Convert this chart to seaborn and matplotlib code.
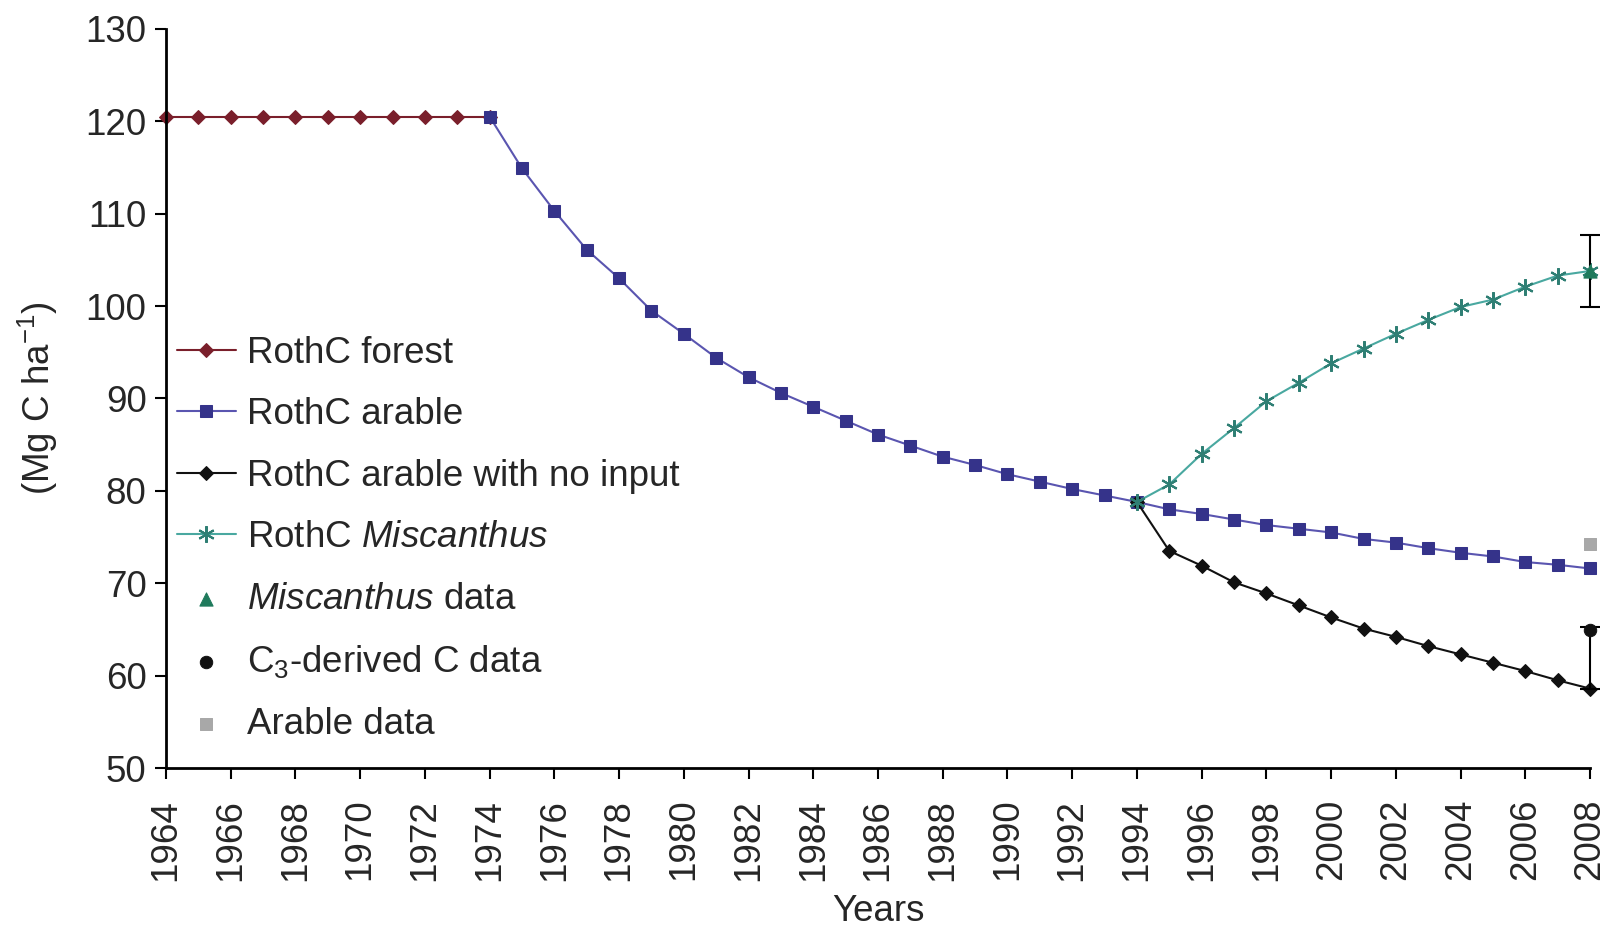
import numpy as np
import pandas as pd
import matplotlib
matplotlib.use("Agg")
import matplotlib.pyplot as plt
import seaborn as sns

# ---- data ----
forest_years = list(range(1964, 1975))
forest_vals = [120.5] * 11

arable_years = list(range(1974, 2009))
arable_vals = [120.5, 114.9, 110.3, 106.1, 103.0, 99.5, 97.0, 94.4, 92.3, 90.6,
               89.1, 87.6, 86.1, 84.9, 83.7, 82.8, 81.8, 81.0, 80.2, 79.5,
               78.8, 78.0, 77.5, 76.9, 76.3, 75.9, 75.5, 74.8, 74.4, 73.8,
               73.3, 72.9, 72.3, 72.0, 71.6]

noinput_years = list(range(1994, 2009))
noinput_vals = [78.8, 73.5, 71.9, 70.1, 68.9, 67.6, 66.3, 65.1, 64.2, 63.2,
                62.3, 61.4, 60.5, 59.5, 58.6]

misc_years = list(range(1994, 2009))
misc_vals = [78.8, 80.7, 84.0, 86.8, 89.7, 91.7, 93.8, 95.4, 97.0, 98.5,
             99.9, 100.7, 102.1, 103.3, 103.8]

misc_data_year = [2008]
misc_data_val = [103.8]
misc_data_err = [3.9]

c3_data_year = [2008]
c3_data_val = [64.9]
c3_data_err_low = [6.3]
c3_data_err_high = [0.4]

arable_data_year = [2008]
arable_data_val = [74.2]

xticks = list(range(1964, 2009, 2))
yticks = list(range(50, 131, 10))

# ---- style ----
sns.set_style("ticks")
plt.rcParams["font.family"] = ["Liberation Sans", "DejaVu Sans"]
plt.rcParams["mathtext.fontset"] = "custom"
plt.rcParams["mathtext.rm"] = "Liberation Sans"
plt.rcParams["mathtext.it"] = "Liberation Sans:italic"

FS = 26.5

fig = plt.figure(figsize=(16.05, 9.31), dpi=100)
ax = fig.add_axes([0.1034, 0.175, 0.8873, 0.794])

c_forest = "#7a1f2b"
c_arable = "#35338a"
c_arable_line = "#5a55b0"
c_noinput = "#111111"
c_misc = "#2f7f74"
c_misc_line = "#49a8a0"

sns.lineplot(x=forest_years, y=forest_vals, ax=ax, color=c_forest, marker="D",
             markersize=7, markeredgecolor=c_forest, linewidth=1.5,
             label="RothC forest", clip_on=False)
sns.lineplot(x=arable_years, y=arable_vals, ax=ax, color=c_arable_line, marker="s",
             markersize=9, markerfacecolor=c_arable, markeredgecolor=c_arable,
             linewidth=1.5, label="RothC arable", clip_on=False)
sns.lineplot(x=noinput_years, y=noinput_vals, ax=ax, color=c_noinput, marker="D",
             markersize=7, markeredgecolor=c_noinput, linewidth=1.5,
             label="RothC arable with no input", clip_on=False)
sns.lineplot(x=misc_years, y=misc_vals, ax=ax, color=c_misc_line, marker=(6, 2, 0),
             markersize=12, markeredgecolor=c_misc, markeredgewidth=1.5,
             linewidth=1.5, label="RothC $\\it{Miscanthus}$", clip_on=False)

# data points with error bars
eb1 = ax.errorbar(misc_data_year, misc_data_val, yerr=[misc_data_err, misc_data_err],
                  fmt="none", ecolor="black", elinewidth=1.5, capsize=7, capthick=1.5)
sns.scatterplot(x=misc_data_year, y=misc_data_val, ax=ax, marker="^", s=90,
                color="#1f7a5c", edgecolor="#1f7a5c", label="$\\it{Miscanthus}$ data",
                zorder=5, clip_on=False)
eb2 = ax.errorbar(c3_data_year, c3_data_val, yerr=[c3_data_err_low, c3_data_err_high],
                  fmt="none", ecolor="black", elinewidth=1.5, capsize=7, capthick=1.5)
sns.scatterplot(x=c3_data_year, y=c3_data_val, ax=ax, marker="o", s=80,
                color="#111111", edgecolor="#111111", label="C$_3$-derived C data",
                zorder=5, clip_on=False)
sns.scatterplot(x=arable_data_year, y=arable_data_val, ax=ax, marker="s", s=80,
                color="#a8a8a8", edgecolor="#a8a8a8", label="Arable data", zorder=4,
                clip_on=False)
for eb in (eb1, eb2):
    for child in eb.get_children():
        child.set_clip_on(False)
    for part in eb.lines:
        if part is None:
            continue
        try:
            for p in part:
                p.set_clip_on(False)
        except TypeError:
            part.set_clip_on(False)

ax.set_xlim(1964, 2008)
ax.set_ylim(50, 130)
ax.set_xticks(xticks)
ax.set_xticklabels([str(x) for x in xticks], rotation=90, fontsize=FS)
ax.set_yticks(yticks)
ax.set_yticklabels([str(y) for y in yticks], fontsize=FS)
ax.tick_params(axis="y", direction="out", length=8, width=1.5, color="black", pad=6)
ax.tick_params(axis="x", direction="out", length=8, width=1.5, color="black", pad=14)
for s in ["top", "right"]:
    ax.spines[s].set_visible(False)
for s in ["left", "bottom"]:
    ax.spines[s].set_linewidth(2)
    ax.spines[s].set_color("black")
ax.spines["left"].set_zorder(10)

ax.set_xlabel("Years", fontsize=FS, labelpad=10)
ax.set_ylabel("(Mg C ha$^{-1}$)", fontsize=FS, labelpad=18)

leg = ax.legend(loc="upper left", bbox_to_anchor=(0.0, 0.60), frameon=False,
                fontsize=FS, handlelength=1.6, handletextpad=0.3,
                labelspacing=0.72, borderpad=0, borderaxespad=0.3)

fig.savefig("out.png", dpi=100)
